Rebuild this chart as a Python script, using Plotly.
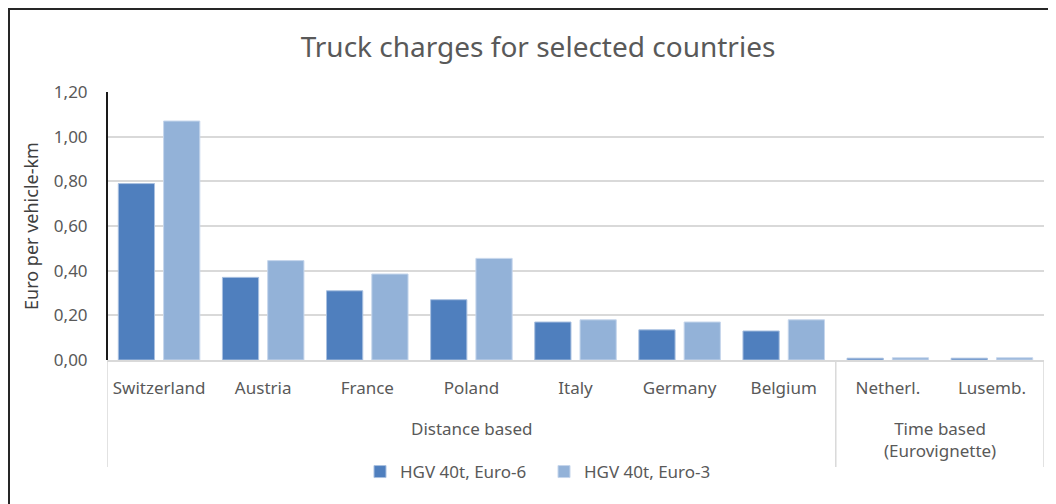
import plotly.graph_objects as go

countries = ["Switzerland", "Austria", "France", "Poland", "Italy", "Germany", "Belgium", "Netherl.", "Lusemb."]
euro6 = [0.79, 0.37, 0.31, 0.27, 0.17, 0.135, 0.13, 0.008, 0.008]
euro3 = [1.07, 0.445, 0.385, 0.455, 0.18, 0.17, 0.18, 0.01, 0.01]
series_names = ["HGV 40t, Euro-6", "HGV 40t, Euro-3"]
group_labels = ["Distance based", "Time based<br>(Eurovignette)"]
group_centers = [3, 7.5]
group_bounds = [-0.5, 6.5, 8.5]
y_ticks = [0, 0.2, 0.4, 0.6, 0.8, 1.0, 1.2]

FONT = "Noto Sans, sans-serif"
OFF = 8  # browser body margin
W, H = 1056 - OFF, 504 - OFF
L, R, T, B = 107 - OFF, 1044 - OFF, 92 - OFF, 360 - OFF

fig = go.Figure()
fig.add_trace(go.Bar(x=countries, y=euro6, name=series_names[0],
                     marker=dict(color="#4F7FBE", line=dict(color="#A9C0E0", width=1))))
fig.add_trace(go.Bar(x=countries, y=euro3, name=series_names[1],
                     marker=dict(color="#93B2D8", line=dict(color="#C6D6EC", width=1))))

def px2paper_x(px):
    return (px - OFF - L) / (R - L)

def px2paper_y(py):
    return (B - (py - OFF)) / (B - T)

shapes = []
for gb in group_bounds:
    shapes.append(dict(type="line", xref="x", yref="paper", x0=gb, x1=gb,
                       y0=0, y1=px2paper_y(467), line=dict(color="#D9D9D9", width=1.5)))
# y-axis dark line
shapes.append(dict(type="line", xref="paper", yref="paper", x0=0, x1=0, y0=0, y1=1,
                   line=dict(color="#1a1a1a", width=2)))
# outer frame (left and top)
shapes.append(dict(type="line", xref="paper", yref="paper",
                   x0=px2paper_x(9), x1=px2paper_x(9), y0=px2paper_y(9), y1=px2paper_y(520),
                   line=dict(color="#262626", width=2)))
shapes.append(dict(type="line", xref="paper", yref="paper",
                   x0=px2paper_x(8), x1=px2paper_x(1070), y0=px2paper_y(9), y1=px2paper_y(9),
                   line=dict(color="#262626", width=2)))

annotations = []
for lbl, c in zip(group_labels, group_centers):
    annotations.append(dict(text=lbl, xref="x", yref="paper", x=c, y=px2paper_y(415),
                            xanchor="center", yanchor="top", showarrow=False,
                            font=dict(family=FONT, size=17, color="#595959")))

fig.update_layout(
    width=W, height=H,
    margin=dict(l=L, r=W - R, t=T, b=H - B, pad=0),
    paper_bgcolor="white", plot_bgcolor="white",
    separators=",.",
    title=dict(text="Truck charges for selected countries", xref="container",
               x=(538 - OFF) / W, xanchor="center",
               y=1 - (47 - OFF) / H, yanchor="middle",
               font=dict(family=FONT, size=28, color="#595959")),
    barmode="group", bargap=0.13, bargroupgap=0.2,
    font=dict(family=FONT, size=17, color="#595959"),
    xaxis=dict(type="category", showgrid=False, showline=True, linecolor="#D9D9D9", linewidth=1.5,
               ticks="", ticklabelstandoff=12, tickfont=dict(family=FONT, size=17, color="#595959"),
               range=[-0.5, 8.5]),
    yaxis=dict(range=[0, 1.2], tickvals=y_ticks, tickformat=".2f", showgrid=True,
               gridcolor="#D9D9D9", gridwidth=1.5, zeroline=False, showline=False,
               ticks="outside", ticklen=15, tickcolor="rgba(0,0,0,0)",
               tickfont=dict(family=FONT, size=17, color="#595959"),
               title=dict(text="Euro per vehicle-km", standoff=10,
                          font=dict(family=FONT, size=18, color="#404040"))),
    legend=dict(orientation="h", x=px2paper_x(544), xanchor="center", y=px2paper_y(472),
                yanchor="middle", font=dict(family=FONT, size=17, color="#595959"),
                itemwidth=30, entrywidth=139, traceorder="normal"),
    shapes=shapes, annotations=annotations,
)

fig.write_html("out.html")
